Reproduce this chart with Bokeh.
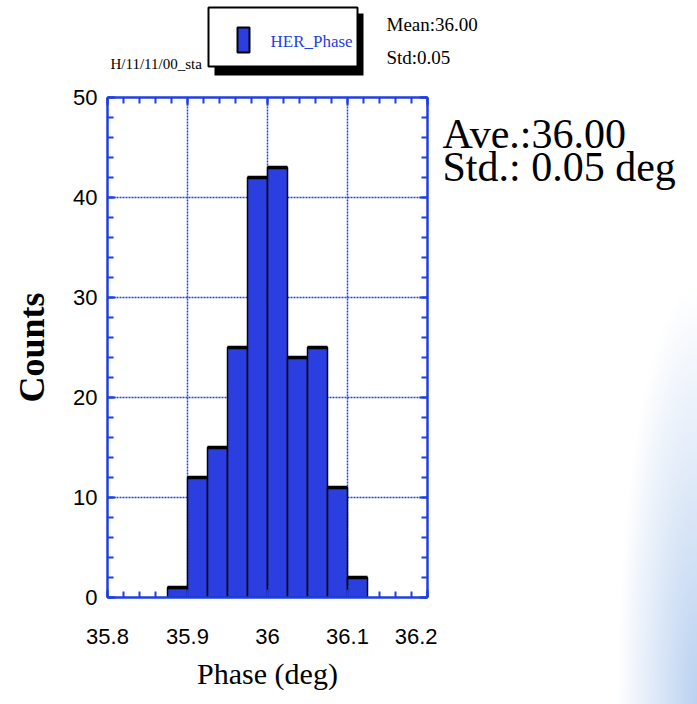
from bokeh.plotting import figure
from bokeh.layouts import column, row
from bokeh.models import LinearAxis, Range1d, FixedTicker
from bokeh.core.properties import value
from bokeh.embed import file_html
from bokeh.resources import INLINE

# ---- data ----
bin_left = [35.875, 35.900, 35.925, 35.950, 35.975, 36.000, 36.025, 36.050, 36.075, 36.100]
bin_width = 0.025
counts = [1, 12, 15, 25, 42, 43, 24, 25, 11, 2]
x_ticks = [35.8, 35.9, 36.0, 36.1, 36.2]
x_tick_labels = ["35.8", "35.9", "36", "36.1", "36.2"]
y_ticks = [0, 10, 20, 30, 40, 50]
y_tick_labels = ["0", "10", "20", "30", "40", "50"]
series_name = "HER_Phase"
run_tag = "H/11/11/00_sta"
mean_text = "Mean:36.00"
std_text = "Std:0.05"
ave_text = "Ave.:36.00"
std_deg_text = "Std.: 0.05 deg"

bin_right = [b + bin_width for b in bin_left]
bottoms = [0] * len(counts)

BLUE = "#1f3fe0"
BAR = "#2b3ee0"
SERIF = "Liberation Serif"
SANS = "Liberation Sans"

W, H = 697, 704
HEAD_H = 80
MAIN_W = 437

# ---------------- main histogram ----------------
p = figure(width=MAIN_W, height=H - HEAD_H, x_range=Range1d(35.8, 36.2), y_range=Range1d(0, 50),
           output_backend="svg", toolbar_location=None,
           min_border_left=107, min_border_right=MAIN_W - 107 - 320,
           min_border_top=97 - HEAD_H, min_border_bottom=107)
p.border_fill_color = "white"
p.background_fill_color = "white"
p.outline_line_color = None

xt = FixedTicker(ticks=x_ticks, minor_ticks=[35.8 + 0.02 * i for i in range(21)])
yt = FixedTicker(ticks=y_ticks, minor_ticks=[2 * i for i in range(26)])

bottom_ax = p.xaxis[0]
left_ax = p.yaxis[0]
bottom_ax.ticker = xt
left_ax.ticker = yt
bottom_ax.major_label_overrides = {v: s for v, s in zip(x_ticks, x_tick_labels)}
left_ax.major_label_overrides = {v: s for v, s in zip(y_ticks, y_tick_labels)}

top_ax = LinearAxis(ticker=xt)
right_ax = LinearAxis(ticker=yt)
for ax in [top_ax, right_ax]:
    ax.major_label_text_color = None
    ax.major_label_text_font_size = "1px"
    ax.major_label_standoff = 0
p.add_layout(top_ax, "above")
p.add_layout(right_ax, "right")

for ax in [bottom_ax, left_ax, top_ax, right_ax]:
    ax.axis_line_color = BLUE
    ax.axis_line_width = 2.5
    ax.major_tick_line_color = BLUE
    ax.minor_tick_line_color = BLUE
    ax.major_tick_line_width = 2
    ax.minor_tick_line_width = 2
    ax.major_tick_in = 8
    ax.major_tick_out = 0
    ax.minor_tick_in = 6
    ax.minor_tick_out = 0

for ax in [bottom_ax, left_ax]:
    ax.major_label_text_font = SANS
    ax.major_label_text_font_size = "22px"
    ax.major_label_text_color = "black"
    ax.axis_label_text_font = SERIF
    ax.axis_label_text_color = "black"

bottom_ax.major_label_standoff = 31
left_ax.major_label_standoff = 10
bottom_ax.axis_label = "Phase (deg)"
bottom_ax.axis_label_text_font_size = "30px"
bottom_ax.axis_label_text_font_style = "normal"
bottom_ax.axis_label_standoff = 10
left_ax.axis_label = "Counts"
left_ax.axis_label_text_font_size = "36px"
left_ax.axis_label_text_font_style = "bold"
left_ax.axis_label_standoff = 18

for g in [p.xgrid[0], p.ygrid[0]]:
    g.grid_line_color = BLUE
    g.grid_line_dash = "2 1"
    g.grid_line_width = 1.5

p.quad(left=bin_left, right=bin_right, top=counts, bottom=bottoms,
       fill_color=BAR, line_color="black", line_width=1.5)
p.segment(x0=bin_left, y0=counts, x1=bin_right, y1=counts, line_color="black", line_width=3.5)

# ---------------- header (pixel coordinates) ----------------
hd = figure(width=W, height=HEAD_H, x_range=Range1d(0, W), y_range=Range1d(HEAD_H, 0),
            output_backend="svg", toolbar_location=None, min_border=0)
hd.axis.visible = False
hd.grid.visible = False
hd.outline_line_color = None
hd.background_fill_color = "white"
hd.border_fill_color = "white"
# legend box with drop shadow
hd.quad(left=[214], right=[363], top=[13], bottom=[75], fill_color="black", line_color=None)
hd.quad(left=[208], right=[357], top=[7], bottom=[66], fill_color="white", line_color="black", line_width=2)
hd.quad(left=[237], right=[249], top=[27], bottom=[52], fill_color=BAR, line_color="black", line_width=2)

def lab(fig, X, Y, txt, size, font=SERIF, color="black"):
    fig.text(x=[X], y=[Y], text=[txt], text_font=value(font), text_font_size=value(f"{size}px"),
             text_color=color, text_align="left", text_baseline="alphabetic")

lab(hd, 270, 41, series_name, 17, color=BLUE)
lab(hd, 110, 63, run_tag, 15)
lab(hd, 386, 24, mean_text, 19)
lab(hd, 386, 56.5, std_text, 19)

# ---------------- right side panel ----------------
rp = figure(width=W - MAIN_W, height=H - HEAD_H, x_range=Range1d(MAIN_W, W), y_range=Range1d(H, HEAD_H),
            output_backend="svg", toolbar_location=None, min_border=0)
rp.axis.visible = False
rp.grid.visible = False
rp.outline_line_color = None
rp.background_fill_color = None
rp.border_fill_color = None
rp.styles = {"background-image": "radial-gradient(ellipse 80px 420px at 100% 100%, rgb(186,209,240) 0%, rgba(255,255,255,0) 100%)"}
lab(rp, 442, 125, ave_text, 42)
lab(rp, 442, 166.5, std_deg_text, 42)

layout = column(hd, row(p, rp, spacing=0), spacing=0)
open("out.html", "w").write(file_html(layout, INLINE))
